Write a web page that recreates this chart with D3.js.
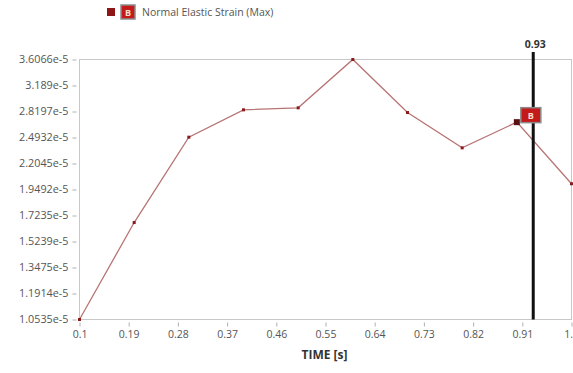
<!DOCTYPE html>
<html>
<head>
<meta charset="utf-8">
<script src="https://cdn.jsdelivr.net/npm/d3@7"></script>
<style>
  html, body { margin: 0; padding: 0; background: #fff; }
  svg { display: block; }
  text { font-family: "Open Sans", "Noto Sans", sans-serif; }
</style>
</head>
<body>
<svg id="chart" width="573" height="373"></svg>
<script>
// Normal elastic strain (max) over time
const times = [0.1, 0.2, 0.3, 0.4, 0.5, 0.6, 0.7, 0.8, 0.9, 1.0];
const strain = [1.0535e-5, 1.667e-5, 2.497e-5, 2.842e-5, 2.869e-5, 3.6066e-5, 2.806e-5, 2.374e-5, 2.681e-5, 2.003e-5];

const xTickValues = [0.1, 0.19, 0.28, 0.37, 0.46, 0.55, 0.64, 0.73, 0.82, 0.91, 1.0];
const xTickLabels = ["0.1", "0.19", "0.28", "0.37", "0.46", "0.55", "0.64", "0.73", "0.82", "0.91", "1."];
const yTickLabels = ["1.0535e-5", "1.1914e-5", "1.3475e-5", "1.5239e-5", "1.7235e-5", "1.9492e-5",
                     "2.2045e-5", "2.4932e-5", "2.8197e-5", "3.189e-5", "3.6066e-5"];

const cursorTime = 0.93;
const seriesName = "Normal Elastic Strain (Max)";
const seriesTag = "B";

const svg = d3.select("#chart");
const m = { left: 79.5, right: 571.5, top: 59.5, bottom: 319.5 };

const yMin = +yTickLabels[0], yMax = +yTickLabels[yTickLabels.length - 1];
const x = d3.scaleLinear().domain([0.1, 1.0]).range([m.left, m.right]);
const y = d3.scaleLog().domain([yMin, yMax]).range([m.bottom, m.top]);

// plot frame
svg.append("rect")
  .attr("x", m.left).attr("y", m.top)
  .attr("width", m.right - m.left).attr("height", m.bottom - m.top)
  .attr("fill", "none").attr("stroke", "#c8c8c8").attr("stroke-width", 1);

// y axis ticks (evenly spaced on the log scale)
const yAxis = d3.axisLeft(y)
  .tickValues(yTickLabels.map(Number))
  .tickFormat((d, i) => yTickLabels[i])
  .tickSize(4).tickPadding(4);
const gy = svg.append("g").attr("transform", `translate(${m.left - 3},0)`).call(yAxis);
gy.select(".domain").remove();
gy.selectAll(".tick line").attr("stroke", "#b0b0b0");
gy.selectAll(".tick text").attr("fill", "#555").attr("font-size", 10.8)
  .attr("font-family", "'Open Sans', sans-serif");

// x axis ticks
const xAxis = d3.axisBottom(x)
  .tickValues(xTickValues)
  .tickFormat((d, i) => xTickLabels[i])
  .tickSize(4).tickPadding(4);
const gx = svg.append("g").attr("transform", `translate(0,${m.bottom + 3})`).call(xAxis);
gx.select(".domain").remove();
gx.selectAll(".tick line").attr("stroke", "#b0b0b0");
gx.selectAll(".tick text").attr("fill", "#555").attr("font-size", 10.5)
  .attr("font-family", "'Open Sans', sans-serif");
// keep the last label inside the window
gx.selectAll(".tick text").filter((d, i) => i === xTickValues.length - 1)
  .attr("text-anchor", "end").attr("dx", 1);

// axis title
svg.append("text")
  .attr("x", (m.left + m.right) / 2 - 1).attr("y", 359)
  .attr("text-anchor", "middle")
  .attr("font-size", 12).attr("font-weight", "bold").attr("fill", "#333")
  .text("TIME [s]");

// series line
const pts = times.map((t, i) => [t, strain[i]]);
svg.append("path")
  .datum(pts)
  .attr("fill", "none")
  .attr("stroke", "#b87474")
  .attr("stroke-width", 1.3)
  .attr("d", d3.line().x(d => x(d[0])).y(d => y(d[1])));

// point markers
svg.selectAll("rect.pt").data(pts).enter().append("rect")
  .attr("class", "pt")
  .attr("x", d => x(d[0]) - 1.5).attr("y", d => y(d[1]) - 1.5)
  .attr("width", 3).attr("height", 3)
  .attr("fill", "#8a1a1a");

// time cursor
svg.append("line")
  .attr("x1", x(cursorTime)).attr("x2", x(cursorTime))
  .attr("y1", 52).attr("y2", m.bottom)
  .attr("stroke", "#111").attr("stroke-width", 3);
svg.append("text")
  .attr("x", x(cursorTime) + 2).attr("y", 48)
  .attr("text-anchor", "middle")
  .attr("font-size", 10.5).attr("font-weight", "bold").attr("fill", "#333")
  .text(cursorTime.toFixed(2));

// cursor marker on the nearest sample
const mk = pts[8];
const mx = x(mk[0]), my = y(mk[1]);
svg.append("rect")
  .attr("x", mx - 3).attr("y", my - 3).attr("width", 6).attr("height", 6)
  .attr("fill", "#5a1010");
function tagBox(g, cx, cy, w, h) {
  g.append("rect").attr("x", cx - w / 2).attr("y", cy - h / 2)
    .attr("width", w).attr("height", h)
    .attr("fill", "#c41a1a").attr("stroke", "#8c8c8c").attr("stroke-width", 1.5);
  g.append("text").attr("x", cx).attr("y", cy + 3.5)
    .attr("text-anchor", "middle").attr("font-size", 9).attr("font-weight", "bold")
    .attr("fill", "#f3e0d0").text(seriesTag);
}
tagBox(svg.append("g"), mx + 14, my - 7, 20, 15);

// legend
const lg = svg.append("g");
lg.append("rect").attr("x", 107).attr("y", 8).attr("width", 8).attr("height", 8).attr("fill", "#8e1616");
tagBox(lg, 128, 12, 14, 14);
lg.append("text")
  .attr("x", 142).attr("y", 16)
  .attr("font-size", 10.5).attr("fill", "#555")
  .text(seriesName);
</script>
</body>
</html>
